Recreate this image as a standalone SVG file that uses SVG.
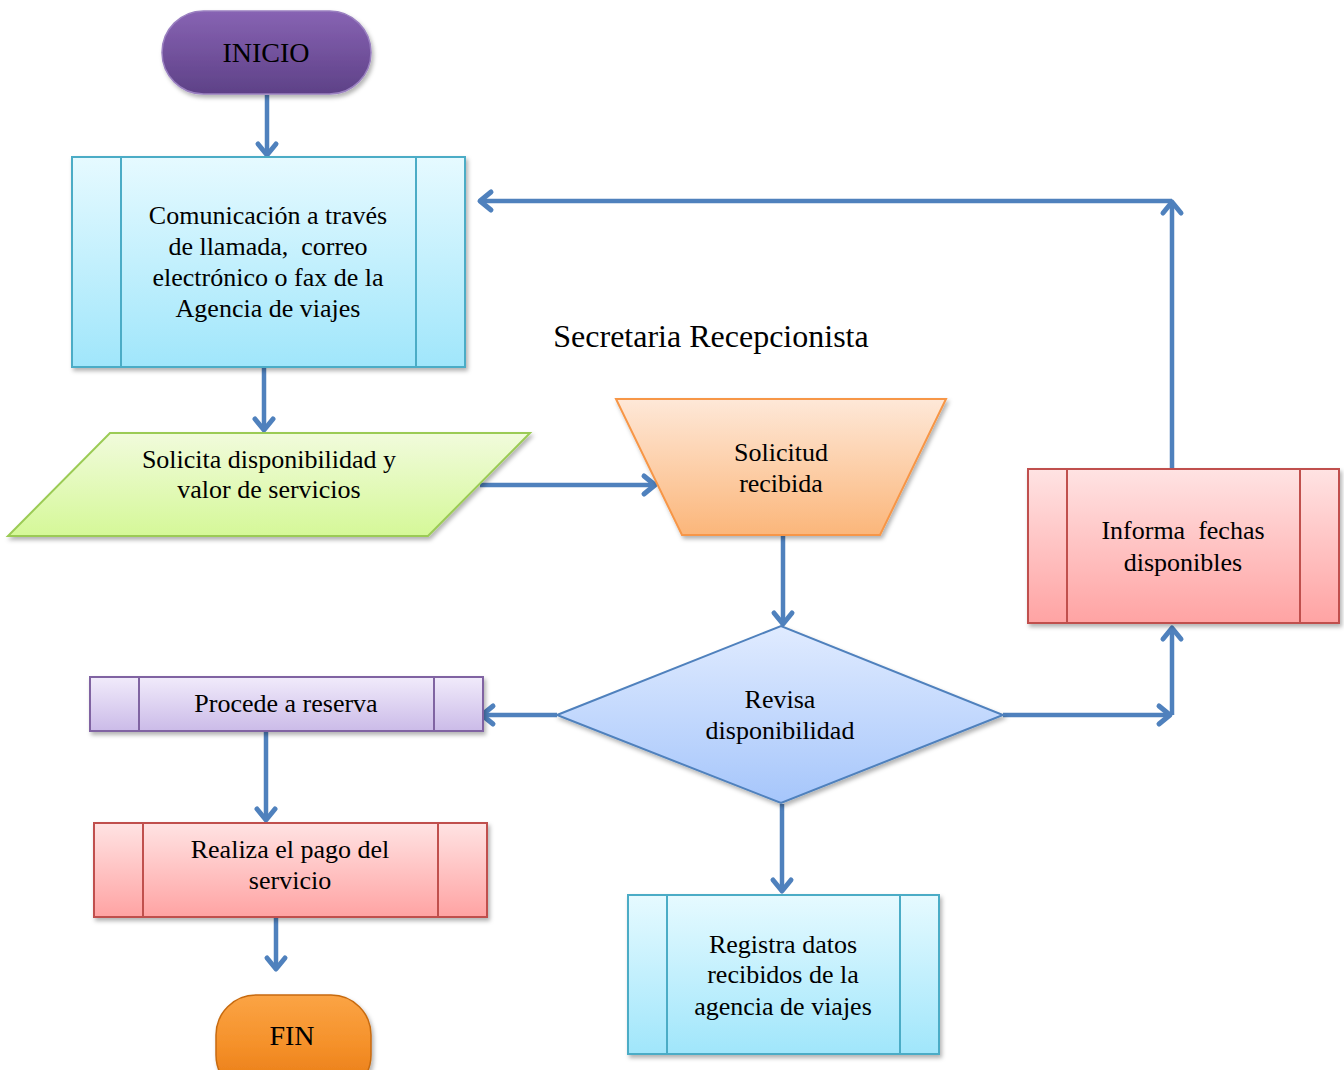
<svg xmlns="http://www.w3.org/2000/svg" width="1344" height="1070" viewBox="0 0 1344 1070">
<style>
text{font-family:"Liberation Serif","Times New Roman",serif;font-size:26px;fill:#000;text-anchor:middle;white-space:pre}
.big{font-size:28px}
.title{font-size:32px}
.conn{fill:none;stroke:#4f81bd;stroke-width:4.5;marker-end:url(#ah)}
.cyan{fill:url(#gCyan);stroke:#4bacc6;stroke-width:2}
.cyanl{stroke:#4bacc6;stroke-width:2}
.pink{fill:url(#gPink);stroke:#c0504d;stroke-width:2}
.pinkl{stroke:#c0504d;stroke-width:2}
.purp{fill:url(#gPurp);stroke:#8064a2;stroke-width:2}
.purpl{stroke:#8064a2;stroke-width:2}
</style>
<defs>
<filter id="sh" x="-10%" y="-10%" width="125%" height="130%">
<feDropShadow dx="2" dy="3" stdDeviation="2" flood-color="#000" flood-opacity="0.3"/>
</filter>
<marker id="ah" markerUnits="userSpaceOnUse" markerWidth="30" markerHeight="30" viewBox="-15 -15 30 30" refX="0" refY="0" orient="auto">
<path d="M-11,-9 L0,0 L-11,9" fill="none" stroke="#4f81bd" stroke-width="5" stroke-linecap="round" stroke-linejoin="round"/>
</marker>
<linearGradient id="gCyan" x1="0" y1="0" x2="0" y2="1"><stop offset="0" stop-color="#e6faff"/><stop offset="1" stop-color="#a0e6fb"/></linearGradient>
<linearGradient id="gPink" x1="0" y1="0" x2="0" y2="1"><stop offset="0" stop-color="#ffe3e3"/><stop offset="1" stop-color="#ffa3a3"/></linearGradient>
<linearGradient id="gPurp" x1="0" y1="0" x2="0" y2="1"><stop offset="0" stop-color="#f1ebfb"/><stop offset="1" stop-color="#cbbbe8"/></linearGradient>
<linearGradient id="gGreen" x1="0" y1="0" x2="0" y2="1"><stop offset="0" stop-color="#f1fbdc"/><stop offset="1" stop-color="#d5f898"/></linearGradient>
<linearGradient id="gOrange" x1="0" y1="0" x2="0" y2="1"><stop offset="0" stop-color="#fee8d8"/><stop offset="1" stop-color="#fbb67a"/></linearGradient>
<linearGradient id="gBlue" x1="0" y1="0" x2="0" y2="1"><stop offset="0" stop-color="#e0ebff"/><stop offset="1" stop-color="#a6c6fb"/></linearGradient>
<linearGradient id="gInicio" x1="0" y1="0" x2="0" y2="1"><stop offset="0" stop-color="#8763b3"/><stop offset="1" stop-color="#5e4187"/></linearGradient>
<linearGradient id="gFin" x1="0" y1="0" x2="0" y2="1"><stop offset="0" stop-color="#fba445"/><stop offset="0.5" stop-color="#f5912a"/><stop offset="1" stop-color="#e67812"/></linearGradient>
</defs>

<text class="title" x="711" y="347">Secretaria Recepcionista</text>

<g id="connectors">
<path class="conn" d="M267,95 V155"/>
<path class="conn" d="M264,368 V430"/>
<path class="conn" d="M480,485 H655"/>
<path class="conn" d="M783,536 V624"/>
<path class="conn" d="M557,715 H482"/>
<path class="conn" d="M1003,715 H1170"/>
<path class="conn" d="M1172,715 V628"/>
<path class="conn" d="M782,804 V891"/>
<path class="conn" d="M266,732 V820"/>
<path class="conn" d="M276,918 V969"/>
<path class="conn" d="M1172,469 V202"/>
<path class="conn" d="M1172,201 H480"/>
</g>

<g id="inicio">
<rect x="162" y="11" width="209" height="83" rx="41.5" fill="url(#gInicio)" stroke="#9a80c0" stroke-width="1.5" filter="url(#sh)"/>
<text class="big" x="266" y="62">INICIO</text>
</g>

<g id="comunicacion">
<rect class="cyan" x="72" y="157" width="393" height="210" filter="url(#sh)"/>
<line class="cyanl" x1="121" y1="157" x2="121" y2="367"/>
<line class="cyanl" x1="416" y1="157" x2="416" y2="367"/>
<text x="268" y="224">Comunicación a través</text>
<text x="268" y="255">de llamada,  correo</text>
<text x="268" y="286">electrónico o fax de la</text>
<text x="268" y="317">Agencia de viajes</text>
</g>

<g id="solicita">
<polygon points="110,433 530,433 428,536 8,536" fill="url(#gGreen)" stroke="#9bcb54" stroke-width="2" filter="url(#sh)"/>
<text x="269" y="468">Solicita disponibilidad y</text>
<text x="269" y="498">valor de servicios</text>
</g>

<g id="solicitud">
<polygon points="616,399 946,399 880,535 682,535" fill="url(#gOrange)" stroke="#f79646" stroke-width="2" filter="url(#sh)"/>
<text x="781" y="461">Solicitud</text>
<text x="781" y="492">recibida</text>
</g>

<g id="revisa">
<polygon points="557,715 781,626 1003,715 781,803" fill="url(#gBlue)" stroke="#4f81bd" stroke-width="2" filter="url(#sh)"/>
<text x="780" y="708">Revisa</text>
<text x="780" y="739">disponibilidad</text>
</g>

<g id="informa">
<rect class="pink" x="1028" y="469" width="311" height="154" filter="url(#sh)"/>
<line class="pinkl" x1="1067" y1="469" x2="1067" y2="623"/>
<line class="pinkl" x1="1300" y1="469" x2="1300" y2="623"/>
<text x="1183" y="539">Informa  fechas</text>
<text x="1183" y="571">disponibles</text>
</g>

<g id="procede">
<rect class="purp" x="90" y="677" width="393" height="54" filter="url(#sh)"/>
<line class="purpl" x1="139" y1="677" x2="139" y2="731"/>
<line class="purpl" x1="434" y1="677" x2="434" y2="731"/>
<text x="286" y="712">Procede a reserva</text>
</g>

<g id="realiza">
<rect class="pink" x="94" y="823" width="393" height="94" filter="url(#sh)"/>
<line class="pinkl" x1="143" y1="823" x2="143" y2="917"/>
<line class="pinkl" x1="438" y1="823" x2="438" y2="917"/>
<text x="290" y="858">Realiza el pago del</text>
<text x="290" y="889">servicio</text>
</g>

<g id="registra">
<rect class="cyan" x="628" y="895" width="311" height="159" filter="url(#sh)"/>
<line class="cyanl" x1="667" y1="895" x2="667" y2="1054"/>
<line class="cyanl" x1="900" y1="895" x2="900" y2="1054"/>
<text x="783" y="953">Registra datos</text>
<text x="783" y="983">recibidos de la</text>
<text x="783" y="1015">agencia de viajes</text>
</g>

<g id="fin">
<rect x="216" y="995" width="155" height="100" rx="40" fill="url(#gFin)" stroke="#c76a10" stroke-width="1.5" filter="url(#sh)"/>
<text class="big" x="292" y="1045">FIN</text>
</g>
</svg>
